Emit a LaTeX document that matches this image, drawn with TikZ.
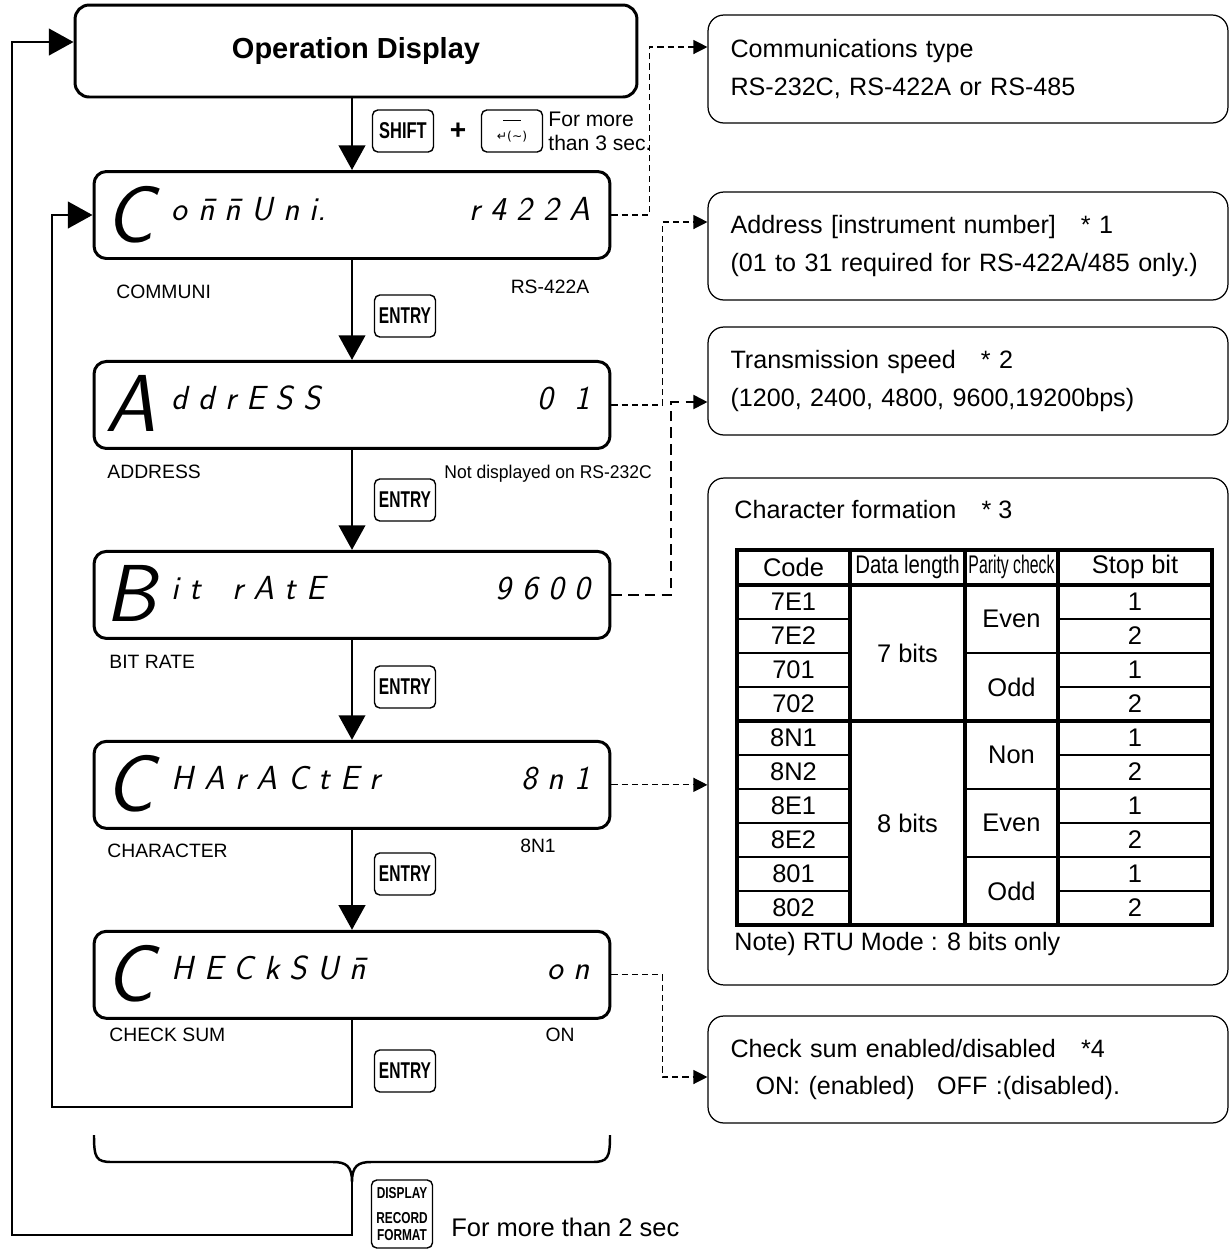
\documentclass[tikz,border=0pt]{standalone}
\usepackage{fontspec}
\setmainfont{Liberation Sans}
\newfontfamily\symfont{DejaVu Sans}
\usepackage{graphicx}
\usetikzlibrary{arrows.meta,positioning}
\newcommand{\narrowtext}[2]{\scalebox{#1}[1]{#2}}

\begin{document}
\begin{tikzpicture}[
  x=0.02cm, y=-0.02cm,
  line width=1.6pt,
  lcd/.style={rectangle, draw, line width=1.7pt, rounded corners=7pt, minimum width=10.32cm, minimum height=1.74cm, inner sep=0pt},
  opbox/.style={rectangle, draw, line width=1.7pt, rounded corners=8pt, minimum width=11.24cm, minimum height=1.84cm, font=\fontsize{16.5}{18}\selectfont\bfseries},
  keybox/.style={rectangle, draw, line width=0.8pt, rounded corners=3pt, minimum width=1.22cm, minimum height=0.84cm, inner sep=0pt, font=\fontsize{13}{13}\selectfont\bfseries},
  infobox/.style={rectangle, draw, line width=0.7pt, rounded corners=9pt, minimum width=10.4cm, minimum height=2.16cm, text width=9.5cm, inner xsep=0.45cm, align=left, font=\fontsize{14.3}{21.5}\selectfont},
  tag/.style={inner sep=0pt, font=\fontsize{11}{12}\selectfont},
  bigseg/.style={inner sep=0pt, font=\sffamily\slshape\fontsize{46}{46}\selectfont},
  smallseg/.style={inner sep=0pt, font=\sffamily\slshape\fontsize{19}{19}\selectfont},
  cell/.style={inner sep=0pt, font=\fontsize{14.5}{15}\selectfont},
  flow/.style={-{Triangle[length=14pt, width=15pt]}, line width=1.6pt},
  dashflow/.style={-{Triangle[length=8pt, width=8pt]}, line width=0.7pt, dash pattern=on 3.5pt off 2.3pt},
  boldrule/.style={line width=2.3pt},
  thinrule/.style={line width=1.1pt}
]
  \useasboundingbox (0,0) rectangle (1231,1249);

  \node[opbox] (opdisp) at (356,51) {Operation Display};
  \node[lcd] (lcd1) at (352,215) {};
  \node[lcd, below=2cm of lcd1] (lcd2) {};
  \node[lcd, below=2cm of lcd2] (lcd3) {};
  \node[lcd, below=2cm of lcd3] (lcd4) {};
  \node[lcd, below=2cm of lcd4] (lcd5) {};

  \foreach \d/\first/\word/\val in {
    1/C/{o \=n \=n U n i.}/{r 4 2 2 A},
    2/A/{d d r E S S}/{0 \ 1},
    3/B/{i t \ \ r A t E}/{9 6 0 0},
    4/C/{H A r A C t E r}/{8 n 1},
    5/C/{H E C k S U \=n}/{o n}}
  {
    \node[bigseg, anchor=base west] (big\d) at ([shift={(12,72)}]lcd\d.north west) {\first};
    \node[smallseg, anchor=base west] (word\d) at ([shift={(78,50)}]lcd\d.north west) {\word};
    \node[smallseg, anchor=base east] (val\d) at ([shift={(-20,50)}]lcd\d.north east) {\val};
  }

  \node[tag, anchor=west] (tcommuni) at (115,292) {COMMUNI};
  \node[tag] (trs) at (550,287) {RS-422A};
  \node[tag, anchor=west] (taddress) at (106,472) {ADDRESS};
  \node[tag, anchor=west, font=\fontsize{10.5}{12}\selectfont] (tnodisp) at (443,474) {\narrowtext{0.95}{Not displayed on RS-232C}};
  \node[tag, anchor=west] (tbitrate) at (108,662) {BIT RATE};
  \node[tag, anchor=west] (tchar) at (106,851) {CHARACTER};
  \node[tag] (t8n1) at (538,846) {8N1};
  \node[tag, anchor=west] (tcheck) at (108,1035) {CHECK SUM};
  \node[tag] (ton) at (560,1035) {ON};

  \node[keybox] (shiftkey) at (403,131) {\narrowtext{0.72}{SHIFT}};
  \node[font=\fontsize{16}{16}\selectfont\bfseries] (plus) at (458,131) {+};
  \node[keybox, align=center, font=\symfont\fontsize{7}{8}\selectfont] (retkey) at (512,131) {\rule{10pt}{0.6pt}\\[3pt]↵(∼)};
  \node[anchor=west, align=left, inner sep=0pt, font=\fontsize{12}{13.6}\selectfont] (hold3) at (547,131) {For more\\than 3 sec.};
  \foreach \y [count=\i] in {316,500,687,874,1071}
    \node[keybox] (entry\i) at (405,\y) {\narrowtext{0.68}{ENTRY}};
  \node[keybox, minimum height=1.36cm, align=center, font=\fontsize{9}{9.5}\selectfont\bfseries] (dispkey) at (402,1214) {\narrowtext{0.75}{DISPLAY}\\[5pt]\narrowtext{0.75}{RECORD}\\\narrowtext{0.75}{FORMAT}};
  \node[anchor=west, inner sep=0pt, font=\fontsize{14.5}{16}\selectfont] (hold2) at (450,1227) {For more than 2 sec};

  \node[infobox] (infoA) at (968,69) {Communications type\\RS-232C, RS-422A or RS-485};
  \node[infobox] (infoB) at (968,246) {Address [instrument number]\quad * 1\\(01 to 31 required for RS-422A/485 only.)};
  \node[infobox] (infoC) at (968,381) {Transmission speed\quad * 2\\(1200, 2400, 4800, 9600,19200bps)};
  \node[infobox, minimum height=10.14cm] (infoD) at (968,731.5) {};
  \node[infobox, minimum height=2.14cm] (infoE) at (968,1069.5) {Check sum enabled/disabled\quad *4\\\hspace*{0.5cm}ON: (enabled)\hspace{0.45cm}OFF :(disabled).};

  \node[anchor=west, inner sep=0pt, font=\fontsize{14.3}{16}\selectfont] (charttl) at (733,510) {Character formation\quad * 3};
  \node[anchor=west, inner sep=0pt, font=\fontsize{14.3}{16}\selectfont] (rtunote) at (733,944) {Note) RTU Mode : 8 bits only};

  \draw[thinrule] foreach \r in {1,2,3,5,6,7,8,9} {(737,{585+34*\r}) -- (850,{585+34*\r}) (1058,{585+34*\r}) -- (1212,{585+34*\r})};
  \draw[thinrule] foreach \r in {2,6,8} {(965,{585+34*\r}) -- (1058,{585+34*\r})};
  \draw[boldrule] (737,550) rectangle (1212,925);
  \draw[boldrule] (850,550) -- (850,925) (965,550) -- (965,925) (1058,550) -- (1058,925) (737,585) -- (1212,585) (737,721) -- (1212,721);

  \node[cell] (hcode) at (793.5,567) {Code};
  \node[cell] (hlen) at (907.5,567) {\narrowtext{0.8}{Data length}};
  \node[cell] (hpar) at (1011.5,567) {\narrowtext{0.62}{Parity check}};
  \node[cell] (hstop) at (1135,567) {Stop bit};
  \foreach \c [count=\k from 0] in {7E1,7E2,701,702,8N1,8N2,8E1,8E2,801,802}
    \node[cell] (code\k) at (793.5,{602+34*\k}) {\c};
  \foreach \s [count=\k from 0] in {1,2,1,2,1,2,1,2,1,2}
    \node[cell] (stop\k) at (1135,{602+34*\k}) {\s};
  \node[cell] (len7) at (907.5,653) {7 bits};
  \node[cell] (len8) at (907.5,823) {8 bits};
  \foreach \p/\y [count=\k] in {Even/619,Odd/687,Non/755,Even/823,Odd/891}
    \node[cell] (par\k) at (1011.5,\y) {\p};

  \draw[flow] (opdisp.south -| lcd1.north) -- (lcd1.north);
  \foreach \a/\b in {1/2,2/3,3/4,4/5}
    \draw[flow] (lcd\a) -- (lcd\b);
  \draw[flow] (lcd5.south) |- (52,1107) |- (lcd1.west);

  \draw[line width=1.4pt] (94,1135) .. controls (94,1158) and (96,1162) .. (112,1162) -- (333,1162) .. controls (346,1162) and (352,1166) .. (352,1182) .. controls (352,1166) and (358,1162) .. (371,1162) -- (592,1162) .. controls (608,1162) and (610,1158) .. (610,1135);
  \coordinate (bracetip) at (352,1182);
  \draw[flow] (bracetip) |- (12,1235) |- ([yshift=0.18cm]opdisp.west);

  \draw[dashflow] (lcd1.east) -- ++(38,0) |- ([yshift=0.44cm]infoA.west);
  \draw[dashflow] (lcd2.east) -- ++(51,0) |- ([yshift=0.48cm]infoB.west);
  \draw[dashflow, line width=1.1pt, dash pattern=on 6pt off 3.5pt] (lcd3.east) -- ++(60,0) |- ([yshift=-0.42cm]infoC.west);
  \draw[dashflow] (lcd4.east) -- (lcd4.east -| infoD.west);
  \draw[dashflow] (lcd5.east) -- ++(51,0) |- ([yshift=-0.15cm]infoE.west);
\end{tikzpicture}
\end{document}
